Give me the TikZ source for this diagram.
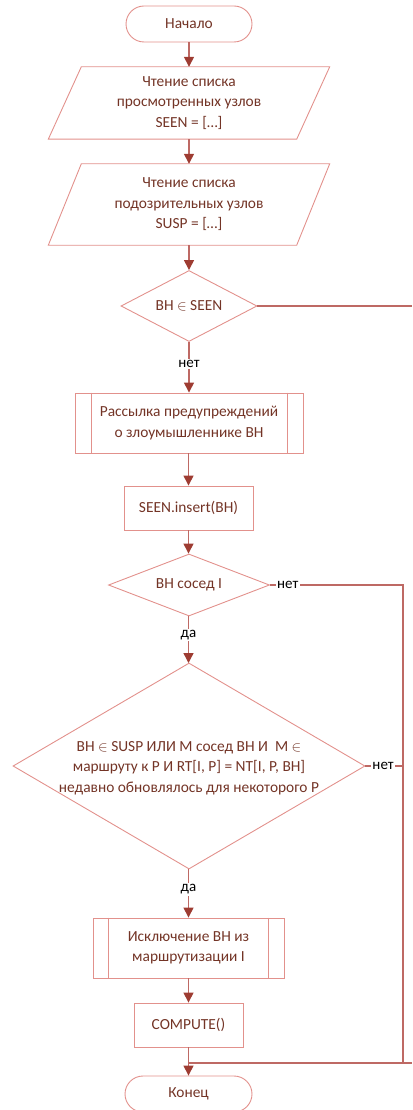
\documentclass[tikz,border=0pt]{standalone}
\usepackage{fontspec}
\setmainfont{Carlito}
\usetikzlibrary{arrows.meta,shapes.geometric,shapes.misc}
\definecolor{shapeline}{RGB}{226,145,140}
\definecolor{connc}{RGB}{190,105,100}
\definecolor{tipc}{RGB}{158,60,50}
\definecolor{txt}{RGB}{115,52,38}
\tikzset{
  base/.style={draw=shapeline, line width=0.9pt, text=txt, font=\fontsize{15.4}{20.5}\selectfont, align=center, inner sep=0pt},
  term/.style={base, rounded rectangle, minimum width=126pt, minimum height=36pt},
  proc/.style={base, rectangle, minimum height=44pt},
  pred/.style={base, rectangle, minimum height=60pt},
  ghost/.style={inner sep=0pt, text=txt, font=\fontsize{15.4}{20.5}\selectfont, align=center},
  shp/.style={draw=shapeline, line width=0.9pt},
  dia/.style={draw=shapeline, line width=0.9pt, diamond, inner sep=0pt},
  conn/.style={draw=connc, line width=1.4pt},
  arr/.style={conn, -{Triangle[width=10pt,length=10pt,color=tipc]}},
  lbl/.style={fill=white, text=black, font=\fontsize{15}{17}\selectfont, inner sep=1.5pt}
}
\begin{document}
\begin{tikzpicture}[x=1pt,y=-1pt]
\useasboundingbox (0,0) rectangle (412,1110);
% nodes
\node[term] (start) at (189,24) {Начало};
\node[ghost, minimum width=248pt, minimum height=72pt] (r1) at (189,103) {Чтение списка\\просмотренных узлов\\SEEN = […]};
\draw[shp] ([xshift=16.5pt]r1.north west) -- ([xshift=16.5pt]r1.north east) -- ([xshift=-16.5pt]r1.south east) -- ([xshift=-16.5pt]r1.south west) -- cycle;
\node[ghost, minimum width=248pt, minimum height=81pt] (r2) at (189,204.5) {Чтение списка\\подозрительных узлов\\SUSP = […]};
\draw[shp] ([xshift=16.5pt]r2.north west) -- ([xshift=16.5pt]r2.north east) -- ([xshift=-16.5pt]r2.south east) -- ([xshift=-16.5pt]r2.south west) -- cycle;
\node[dia, minimum width=136pt, minimum height=71pt] (d1) at (189,306) {};
\node[ghost] (t1) at (d1.center) {BH $\in$ SEEN};
\node[pred, minimum width=228pt] (p1) at (189,423) {Рассылка предупреждений\\о злоумышленнике BH};
\draw[shp] ([xshift=17pt]p1.north west) -- ([xshift=17pt]p1.south west);
\draw[shp] ([xshift=-16pt]p1.north east) -- ([xshift=-16pt]p1.south east);
\node[proc, minimum width=129pt] (ins) at (188.5,508) {SEEN.insert(BH)};
\node[dia, minimum width=161pt, minimum height=62pt] (d2) at (189,585) {};
\node[ghost] (t2) at (d2.center) {BH сосед I};
\node[dia, minimum width=352pt, minimum height=206pt] (d3) at (189,766) {};
\node[ghost] (t3) at (189,768) {BH $\in$ SUSP ИЛИ M сосед BH И\ \ M $\in$\\маршруту к P И RT[I, P] = NT[I, P, BH]\\недавно обновлялось для некоторого P};
\node[pred, minimum width=191pt] (p2) at (188.5,948) {Исключение BH из\\маршрутизации I};
\draw[shp] ([xshift=16pt]p2.north west) -- ([xshift=16pt]p2.south west);
\draw[shp] ([xshift=-16pt]p2.north east) -- ([xshift=-16pt]p2.south east);
\node[proc, minimum width=109pt] (comp) at (188.5,1025) {COMPUTE()};
\node[term, minimum width=127pt] (end) at (188.5,1094) {Конец};
% coordinates
\coordinate (e1) at (412,306);
\coordinate (e2) at (412,1063);
\coordinate (c2) at (403,585);
\coordinate (c3) at (403,766);
\coordinate (c4) at (403,1063);
\coordinate (m) at (188.5,1063);
% connectors
\draw[arr] (start.south) -- (r1.north);
\draw[arr] (r1.south) -- (r2.north);
\draw[arr] (r2.south) -- (d1.north);
\draw[conn] (d1.east) -- (e1);
\draw[arr] (d1.south) -- node[lbl, pos=0.44] (l1) {нет} (p1.north);
\draw[arr] (p1.south -| ins.north) -- (ins.north);
\draw[arr] (ins.south) -- (ins.south |- d2.north);
\draw[arr] (d2.south -| 188.5,0) -- node[lbl, pos=0.40] (l2) {да} (188.5,663);
\draw[conn] (d2.east) -- node[lbl, pos=0.134] (l3) {нет} (c2) -- (c4) -- (m);
\draw[conn] (d3.east) -- node[lbl, pos=0.47] (l4) {нет} (c3);
\draw[conn] (e2) -- (c4);
\draw[arr] (d3.south -| p2.north) -- node[lbl, pos=0.41] (l5) {да} (p2.north);
\draw[arr] (p2.south) -- (comp.north);
\draw[arr] (comp.south) -- (end.north);
\end{tikzpicture}
\end{document}
